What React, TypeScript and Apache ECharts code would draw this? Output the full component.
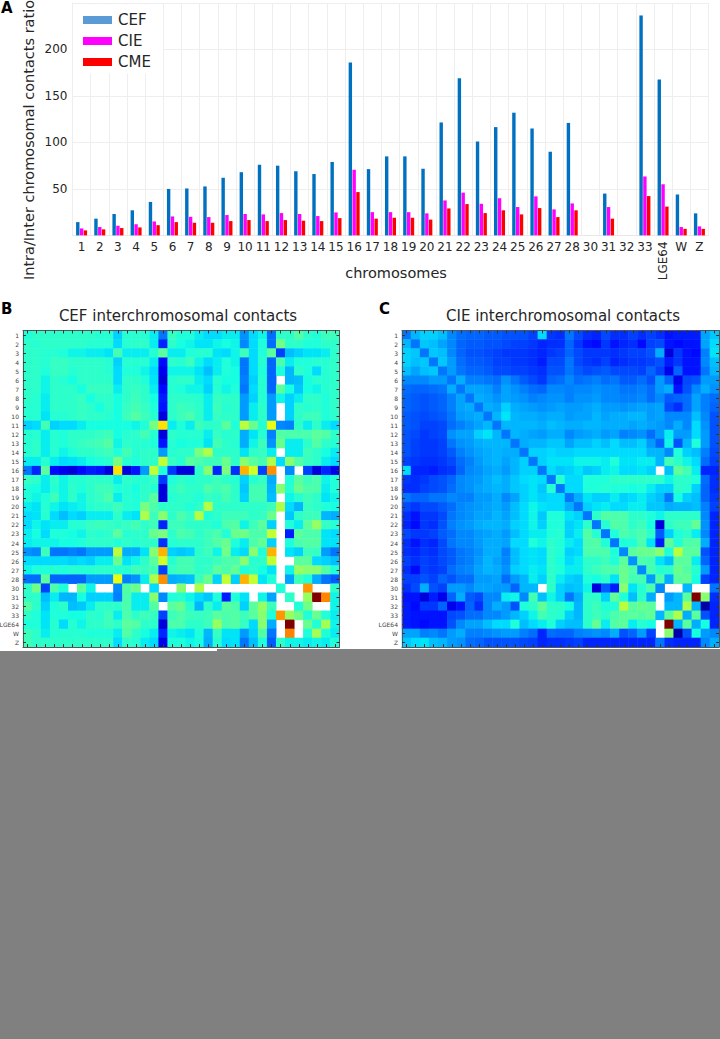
import React, { useEffect, useRef } from "react";
import * as echarts from "echarts";

const n = null;
const chromosomes = ["1","2","3","4","5","6","7","8","9","10","11","12","13","14","15","16","17","18","19","20","21","22","23","24","25","26","27","28","30","31","32","33","LGE64","W","Z"];
const yTickLabels = [50, 100, 150, 200];
const cefBars = [14.3,18,23,27,36,50,50.5,52.7,62,68,76,75,69,66,79,186,71.3,85,85,71.7,121.5,169,101,116.5,132,115,90,121,0,45,0,236.6,167.7,44,23.7];
const cieBars = [7.5,9,10.4,12,15,20.4,20,19.7,21.9,23,22.6,24,23,20.8,24.7,70.6,25,25,25,23.7,37.6,46,34,40,30.5,42,28,34.4,0,30.5,0,63.4,55,9,9.7];
const cmeBars = [5.4,6.5,7.9,8.6,11,14.3,13.6,13.6,15.4,16.5,15.4,16.5,15.8,15.4,18.6,46.6,18,19,19,17,29,33.7,24,27,22.6,29.4,19.7,27,0,18,0,42.3,31,7,7];

// Upper triangles of the two symmetric contact maps, on a 0-100 colour scale; null = white (no data)
const cefUpper: (number | null)[][] = [
[36,38,38,38,38,38,38,38,37,37,30,37,37,37,33,20,39,36,36,33,31,31,33,33,23,31,34,19,38,38,43,38,36,40,40],
[37,38,38,38,38,38,37,37,37,31,37,38,38,33,11,38,35,34,32,32,34,35,34,22,31,36,19,47,38,38,36,36,38,38],
[37,37,36,34,34,33,33,32,41,33,33,33,37,44,33,33,36,37,37,32,31,34,40,31,36,44,14,28,30,32,32,33,38],
[39,39,38,38,38,38,37,30,37,37,37,33,8,38,37,40,34,31,33,36,34,20,31,37,18,42,33,36,36,37,37,38],
[39,37,38,38,38,37,31,36,36,34,31,7,34,34,34,32,28,33,36,35,20,31,36,18,36,27,38,36,31,37,38],
[35,38,38,38,38,31,38,38,36,32,6,37,38,38,33,31,37,35,35,21,30,37,18,n,27,28,35,37,37,38],
[35,39,39,39,33,38,39,38,33,8,37,36,34,34,30,37,34,36,20,31,37,18,44,35,29,35,34,37,38],
[35,38,38,35,38,40,38,35,10,38,38,38,37,33,39,38,38,24,30,37,24,34,30,33,38,38,36,38],
[35,38,35,39,41,39,36,9,38,40,39,38,33,40,37,38,24,33,38,24,n,30,38,37,38,36,38],
[37,35,40,43,40,37,6,38,40,42,38,33,39,38,38,24,33,38,24,n,30,38,40,40,36,38],
[35,35,34,36,48,67,33,36,33,40,38,38,44,36,57,46,37,63,22,21,38,33,38,33,31],
[37,38,41,37,6,38,37,37,37,33,39,37,38,26,32,37,21,43,42,42,42,44,43,38],
[37,37,36,9,37,35,36,36,32,41,38,37,26,34,40,23,46,33,33,38,43,38,37],
[38,38,24,37,38,38,48,55,38,38,38,32,38,39,33,n,33,33,40,38,35,33],
[38,58,39,37,44,42,40,40,46,38,50,44,41,55,31,50,43,39,38,33,31],
[36,13,6,6,38,50,11,48,12,72,60,14,76,n,22,n,14,6,11,7],
[36,38,37,38,38,40,38,37,30,37,39,26,n,36,44,40,42,34,36],
[40,38,38,42,40,42,38,29,41,41,27,50,37,46,42,42,33,36],
[38,36,39,38,41,38,30,41,41,28,n,34,37,40,38,32,34],
[38,56,38,38,38,38,38,38,40,55,31,27,39,38,36,35],
[36,38,40,40,40,38,39,46,n,29,38,40,40,27,26],
[36,42,43,34,40,44,30,n,36,33,44,52,39,37],
[36,46,47,42,42,58,n,10,44,42,42,32,31],
[36,33,42,45,30,n,36,42,43,43,32,32],
[31,50,36,72,n,32,30,40,39,24,20],
[37,38,58,n,n,44,44,31,30,28],
[35,32,n,34,52,50,50,43,36],
[36,n,25,40,36,26,20,17],
[36,n,n,75,n,n,38],
[38,n,52,100,77,34],
[36,47,n,n,34],
[36,46,36,33],
[36,54,34],
[36,33],
[36],
];
const cieUpper: (number | null)[][] = [
[20,27,30,30,28,22,19,18,18,17,17,16,16,16,14,31,13,12,20,15,12,11,15,12,12,14,12,14,12,9,10,10,10,25,29],
[20,29,28,25,22,18,17,17,16,16,15,14,14,13,11,12,12,18,13,9,8,13,9,11,12,8,14,15,9,8,9,9,25,31],
[20,29,28,22,18,16,16,15,14,13,13,13,12,11,13,14,18,15,13,13,13,12,13,14,14,16,26,6,13,9,8,21,32],
[20,29,24,19,17,17,16,14,14,13,13,12,10,15,15,20,15,13,12,14,11,12,13,13,14,16,10,13,9,9,22,28],
[20,24,20,18,18,17,15,15,14,14,13,12,16,16,20,17,15,16,17,15,15,15,14,18,14,7,18,9,9,20,27],
[20,26,21,21,20,19,23,20,17,15,13,18,19,22,19,20,21,19,20,17,17,19,16,24,18,7,15,16,24,24],
[20,25,25,24,21,25,23,21,19,18,22,22,21,22,22,23,22,22,20,20,21,19,24,26,9,16,22,26,23],
[20,26,25,23,25,24,23,21,22,23,23,21,23,23,24,22,22,21,21,22,19,22,17,18,19,25,21,19],
[20,26,25,30,26,25,24,23,24,25,24,24,25,26,24,24,23,24,25,24,25,15,12,19,25,21,18],
[20,27,32,27,26,26,25,26,26,24,25,25,27,25,26,26,27,27,24,25,22,22,22,28,22,16],
[20,27,27,27,27,26,28,27,26,26,27,27,26,26,26,25,26,25,24,22,26,22,31,23,16],
[20,27,26,25,24,26,26,22,24,25,26,24,25,21,22,23,19,24,33,24,24,31,24,16],
[20,26,27,27,29,29,25,28,28,30,28,31,28,28,30,24,18,34,16,27,36,24,16],
[20,30,30,31,30,30,31,31,31,31,31,31,31,31,27,27,22,36,30,28,21,15],
[20,30,32,32,32,34,34,34,33,36,32,32,33,33,27,41,38,34,31,19,14],
[20,31,29,30,32,29,30,33,34,31,31,32,30,n,28,45,41,33,11,11],
[20,37,31,31,36,36,36,38,38,38,38,38,38,34,38,38,36,19,12],
[20,31,31,36,36,37,36,36,35,36,33,30,30,38,37,30,18,12],
[20,26,32,30,30,33,30,31,33,30,28,20,35,30,28,18,13],
[20,30,32,33,31,31,33,33,29,29,26,27,27,28,21,14],
[20,38,43,42,42,38,38,36,34,38,38,38,38,22,11],
[20,37,43,42,38,40,35,6,38,40,40,45,23,11],
[20,36,42,40,42,38,17,30,36,38,33,22,11],
[20,36,36,42,32,10,45,36,42,43,26,11],
[22,44,46,46,50,36,57,44,44,16,11],
[23,42,41,32,28,44,44,33,18,11],
[22,41,37,38,46,43,37,24,11],
[24,42,26,44,45,35,14,11],
[22,n,n,27,n,n,20],
[24,27,44,100,50,12],
[27,55,27,3,11],
[26,44,16,11],
[26,35,11],
[24,22],
[26],
];

// jet-like colour list, 0..100
function clamp(v: number) { return Math.max(0, Math.min(1, v)); }
function lerp(t: number, pts: number[][]) {
  for (let i = 1; i < pts.length; i++) {
    if (t <= pts[i][0]) {
      const a = pts[i - 1], b = pts[i];
      return a[1] + ((t - a[0]) / (b[0] - a[0] || 1)) * (b[1] - a[1]);
    }
  }
  return pts[pts.length - 1][1];
}
const jetColors: string[] = [];
for (let i = 0; i <= 100; i++) {
  const t = i / 100;
  const r = lerp(t, [[0, 0], [0.32, 0], [0.66, 1], [0.89, 1], [1, 0.5]]);
  const g = lerp(t, [[0, 0], [0.07, 0], [0.35, 1], [0.64, 1], [0.91, 0], [1, 0]]);
  const b = lerp(t, [[0, 0.45], [0.08, 1], [0.31, 1], [0.65, 0], [1, 0]]);
  const h = (v: number) => Math.round(clamp(v) * 255).toString(16).padStart(2, "0");
  jetColors.push("#" + h(r) + h(g) + h(b));
}

function cells(upper: (number | null)[][]) {
  const out: number[][] = [];
  upper.forEach((row, i) => {
    row.forEach((v, k) => {
      const j = i + k;
      if (v === null) return;
      out.push([j, i, v]);
      if (i !== j) out.push([i, j, v]);
    });
  });
  return out;
}

const font = "DejaVu Sans";
const dark = "#262626";

function heatAxes(gridIndex: number) {
  const tick = { show: true, inside: true, length: 3, alignWithLabel: true, lineStyle: { color: "#333", width: 1 } };
  const line = { show: true, lineStyle: { color: "#555", width: 1 } };
  const base = { type: "category" as const, z: 5, gridIndex, data: chromosomes, boundaryGap: true, axisLine: line, axisTick: { ...tick, interval: 0 }, splitLine: { show: false } };
  return {
    x: [
      { ...base, position: "bottom", axisLabel: { show: false } },
      { ...base, position: "top", axisLabel: { show: false } },
    ],
    y: [
      { ...base, inverse: true, position: "left", axisLabel: { show: true, interval: 0, fontSize: 6, margin: 4, color: "#444", fontFamily: font } },
      { ...base, inverse: true, position: "right", axisLabel: { show: false } },
    ],
  };
}

function App() {
  const ref = useRef<HTMLDivElement>(null);
  useEffect(() => {
    const chart = echarts.init(ref.current!, undefined, { renderer: "svg", width: 720, height: 1039 });
    const b = heatAxes(1);
    const c = heatAxes(2);
    const grey = "#808080";
    const bar = (name: string, data: number[], color: string) => ({
      name, type: "bar", data, xAxisIndex: 0, yAxisIndex: 0, barWidth: 3.4, barGap: "12%",
      itemStyle: { color },
    });
    const titleStyle = { fontFamily: font, fontSize: 15, fontWeight: "normal", color: dark };
    chart.setOption({
      animation: false,
      backgroundColor: "#ffffff",
      textStyle: { fontFamily: font },
      grid: [
        { left: 72.5, top: 3, width: 636, height: 232.4, outerBoundsMode: "none" },
        { left: 23, top: 330.5, width: 316.5, height: 316.5, outerBoundsMode: "none" },
        { left: 402, top: 330.5, width: 317, height: 316.5, outerBoundsMode: "none" },
      ],
      title: [
        { text: "CEF interchromosomal contacts", left: 178, top: 308, padding: 0, textAlign: "center", textStyle: titleStyle },
        { text: "CIE interchromosomal contacts", left: 563, top: 308, padding: 0, textAlign: "center", textStyle: titleStyle },
      ],
      legend: {
        orient: "vertical", left: 73, top: 4.5, padding: [8, 12, 4, 10], backgroundColor: "#fff",
        itemWidth: 29, itemHeight: 8, itemGap: 6, icon: "rect",
        textStyle: { fontFamily: font, fontSize: 15, color: dark, padding: [0, 0, 0, 1] },
        data: [
          { name: "CEF", itemStyle: { color: "#5b9bd5" } },
          { name: "CIE", itemStyle: { color: "#ff00ff" } },
          { name: "CME", itemStyle: { color: "#ff0000" } },
        ],
      },
      xAxis: [
        {
          type: "category", gridIndex: 0, data: chromosomes,
          axisLine: { lineStyle: { color: "#e8e8e8" } }, axisTick: { show: false },
          splitLine: { show: true, interval: 0, lineStyle: { color: "#eeeeee", width: 1 } },
          axisLabel: { interval: 0, fontSize: 12, margin: 6, color: dark, fontFamily: font, formatter: (v: string) => (v === "LGE64" ? "" : v) },
        },
        {
          type: "category", gridIndex: 0, data: chromosomes, position: "bottom",
          axisLine: { show: false }, axisTick: { show: false }, splitLine: { show: false },
          axisLabel: { interval: 0, rotate: 90, fontSize: 12, margin: 6, color: dark, fontFamily: font, formatter: (v: string) => (v === "LGE64" ? v : "") },
        },
        ...b.x, ...c.x,
      ],
      yAxis: [
        {
          type: "value", gridIndex: 0, min: 0, max: 250, interval: 50,
          axisLine: { show: true, lineStyle: { color: "#eeeeee" } }, axisTick: { show: false },
          splitLine: { show: true, lineStyle: { color: "#eeeeee", width: 1 } },
          axisLabel: { fontSize: 12, margin: 5, color: dark, fontFamily: font, formatter: (v: number) => (yTickLabels.includes(v) ? String(v) : "") },
        },
        ...b.y, ...c.y,
      ],
      visualMap: { show: false, type: "continuous", seriesIndex: [3, 4], min: 0, max: 100, inRange: { color: jetColors } },
      series: [
        bar("CEF", cefBars, "#0070c0"),
        bar("CIE", cieBars, "#ff00ff"),
        bar("CME", cmeBars, "#ff0000"),
        { name: "CEF map", type: "heatmap", xAxisIndex: 2, yAxisIndex: 1, data: cells(cefUpper), itemStyle: { borderWidth: 0 } },
        { name: "CIE map", type: "heatmap", xAxisIndex: 4, yAxisIndex: 3, data: cells(cieUpper), itemStyle: { borderWidth: 0 } },
      ],
      graphic: [
        { type: "text", x: 1, y: 0, style: { text: "A", font: `bold 15px '${font}'`, fill: "#000" } },
        { type: "text", x: 1, y: 301, style: { text: "B", font: `bold 15px '${font}'`, fill: "#000" } },
        { type: "text", x: 379, y: 301, style: { text: "C", font: `bold 15px '${font}'`, fill: "#000" } },
        { type: "text", x: 29, y: 140, rotation: Math.PI / 2, style: { text: "Intra/Inter chromosomal contacts ratio", font: `14.5px '${font}'`, fill: dark, textAlign: "center", textVerticalAlign: "middle" } },
        { type: "text", x: 396, y: 273, style: { text: "chromosomes", font: `14.5px '${font}'`, fill: dark, textAlign: "center", textVerticalAlign: "middle" } },
        { type: "rect", z: 100, shape: { x: 0, y: 651, width: 217, height: 388 }, style: { fill: grey } },
        { type: "rect", z: 100, shape: { x: 217, y: 649, width: 503, height: 390 }, style: { fill: grey } },
      ],
    });
    return () => chart.dispose();
  }, []);
  return <div ref={ref} style={{ position: "fixed", left: 0, top: 0, width: 720, height: 1039 }} />;
}

export default App;
